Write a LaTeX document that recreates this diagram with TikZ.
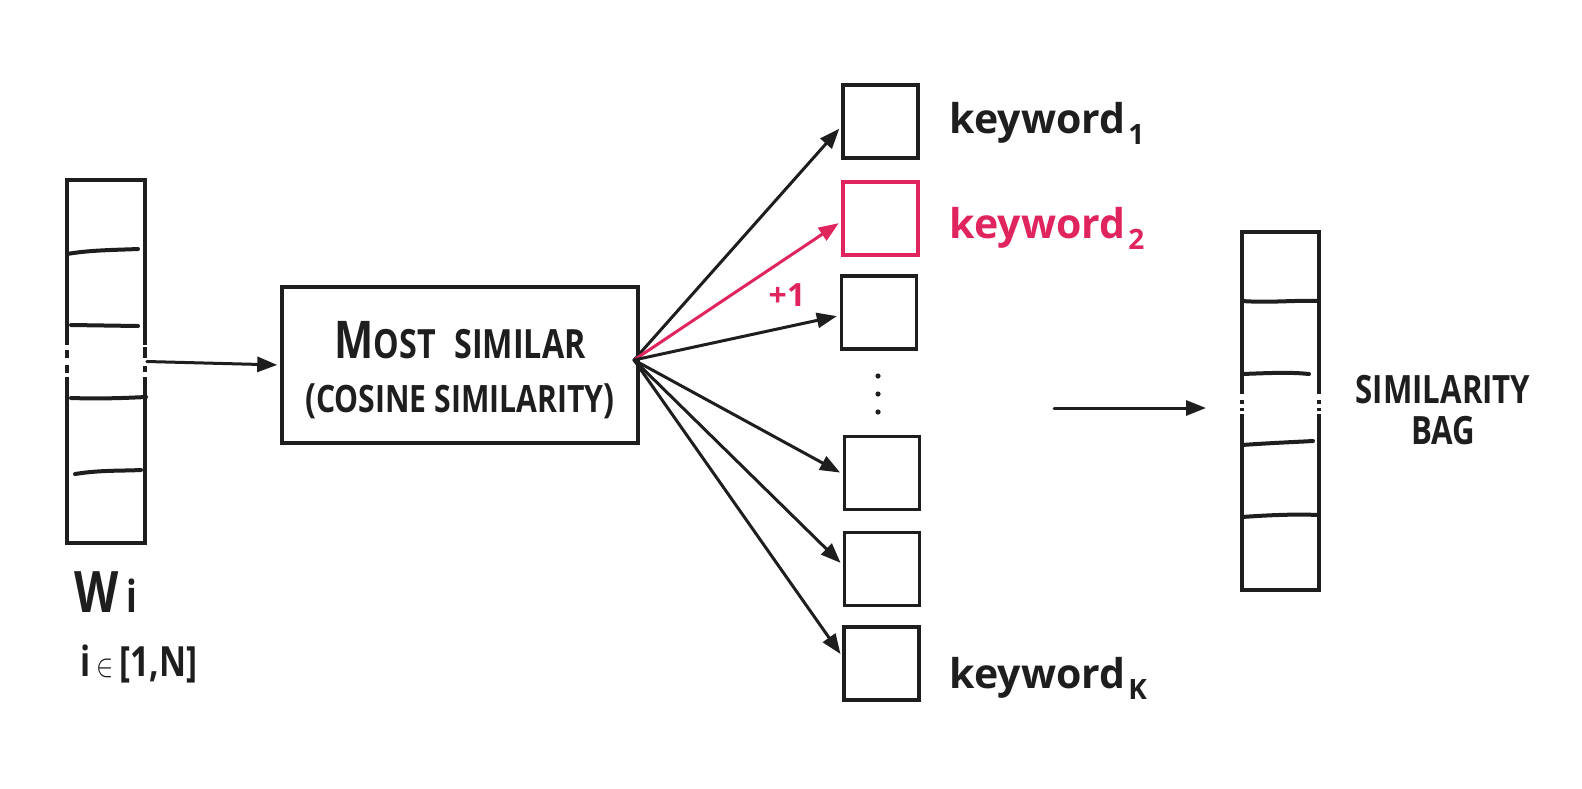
\documentclass[tikz,border=0pt]{standalone}
\usepackage{fontspec}
\setmainfont{Open Sans}
\usetikzlibrary{arrows.meta}
\definecolor{ink}{HTML}{1E1E1E}
\definecolor{accent}{HTML}{E0245E}
\newcommand\kwsub[1]{\hspace{3pt}\raisebox{-11pt}{\fontsize{28}{28}\selectfont #1}}
\newcommand\tall[1]{\scalebox{1.04}[1.3]{#1}}
\begin{document}
\begin{tikzpicture}[x=1pt,y=-1pt,line width=3.5pt,line cap=round,
  kbox/.style={draw=ink,line width=3.5pt,minimum width=75pt,minimum height=73pt,inner sep=0pt},
  vec/.style={draw=ink,line width=3.5pt,inner sep=0pt},
  sep/.style={draw=ink,line width=4pt},
  arr/.style={-{Triangle[length=20pt,width=15pt]},line width=3pt,draw=ink,shorten >=3pt},
  kw/.style={anchor=base west,text=ink,font=\bfseries\fontsize{41}{46}\selectfont,inner sep=0pt},
  lbl/.style={text=ink,inner sep=0pt}]
\useasboundingbox (0,0) rectangle (1582,788);
\fill[white] (0,0) rectangle (1582,788);

% left vector
\node[vec,minimum width=78pt,minimum height=363pt] (wv) at (106,361.5) {};
\draw[sep] (67,254) .. controls (90,250) and (115,250) .. (138,249);
\draw[sep] (71,325) -- (138,326);
\draw[sep] (71,398) .. controls (100,399) and (125,398) .. (146,397);
\draw[sep] (75,474) .. controls (100,470) and (120,471) .. (141,470);
\fill[white] (58,345) rectangle (76,377);
\fill[white] (136,345) rectangle (154,377);
\draw[ink,line cap=butt] (67,350) -- (67,358) (67,365) -- (67,373);
\draw[ink,line cap=butt] (145,347) -- (145,358) (145,366) -- (145,372);

\node[lbl,anchor=base,font=\bfseries\fontsize{44}{44}\selectfont] (wlab) at (106,612) {\tall{W\,{\fontsize{34}{34}\selectfont i}}};
\node[lbl,anchor=base,font=\bfseries\fontsize{32}{32}\selectfont] (wrng) at (139,676) {\tall{i\,$\in$\,[1,N]}};

% most similar box
\node[vec,minimum width=356pt,minimum height=156pt] (ms) at (460,365) {};
\node[lbl,align=center,font=\bfseries\fontsize{31}{58}\selectfont] (mstext) at (460,370)
  {\tall{{\fontsize{40}{40}\selectfont M}OST\hspace{18pt}SIMILAR}\\[-4pt]\tall{({\fontsize{29}{29}\selectfont COSINE SIMILARITY})}};
\draw[arr] (wv.east) -- (ms.west);

% keyword boxes
\node[kbox] (b1) at (880.5,121.5) {};
\node[kbox,draw=accent] (b2) at (880.5,218.5) {};
\node[kbox] (b3) at (879,312.5) {};
\node[kbox] (b4) at (882,473) {};
\node[kbox] (b5) at (882,569) {};
\node[kbox] (b6) at (881.5,663.5) {};
\foreach \yy in {376,394,412} \fill[ink] (878,\yy) circle (2.6pt);

\coordinate (src) at (634,360);
\draw[arr] (src) -- ([yshift=-5pt]b1.west);
\draw[arr,draw=accent,fill=accent] (src) -- ([yshift=-3pt]b2.west);
\draw[arr] (src) -- ([yshift=-3pt]b3.west);
\draw[arr] (src) -- ([yshift=-1pt]b4.west);
\draw[arr] (src) -- ([yshift=4pt]b5.west);
\draw[arr] (src) -- ([yshift=7pt]b6.west);

\node[lbl,anchor=base,text=accent,font=\bfseries\fontsize{32}{32}\selectfont] (plus) at (787,306) {+1};

\node[kw] (k1) at (948,133) {keyword\kwsub{1}};
\node[kw,text=accent] (k2) at (948,238) {keyword\kwsub{2}};
\node[kw] (k3) at (948,688) {keyword\kwsub{K}};

% right arrow
\coordinate (ra) at (1054,408);
\coordinate (rb) at (1209,408);
\draw[arr] (ra) -- (rb);

% similarity bag
\node[vec,minimum width=77pt,minimum height=358pt] (bag) at (1280.5,411) {};
\draw[sep] (1242,301) .. controls (1270,303) and (1295,300) .. (1319,301);
\draw[sep] (1242,374) .. controls (1270,373) and (1290,372) .. (1309,374);
\draw[sep] (1242,445) .. controls (1270,443) and (1295,442) .. (1313,441);
\draw[sep] (1242,517) .. controls (1270,515) and (1295,514) .. (1319,515);
\fill[white] (1232,394) rectangle (1250,414);
\fill[white] (1310,394) rectangle (1328,414);
\draw[ink,line cap=butt] (1242,400) -- (1242,404) (1242,408) -- (1242,411);
\draw[ink,line cap=butt] (1319,400) -- (1319,404) (1319,408) -- (1319,411);

\node[lbl,align=center,font=\bfseries\fontsize{30}{41}\selectfont] (baglab) at (1443,410) {\tall{SIMILARITY}\\\tall{BAG}};
\end{tikzpicture}
\end{document}
